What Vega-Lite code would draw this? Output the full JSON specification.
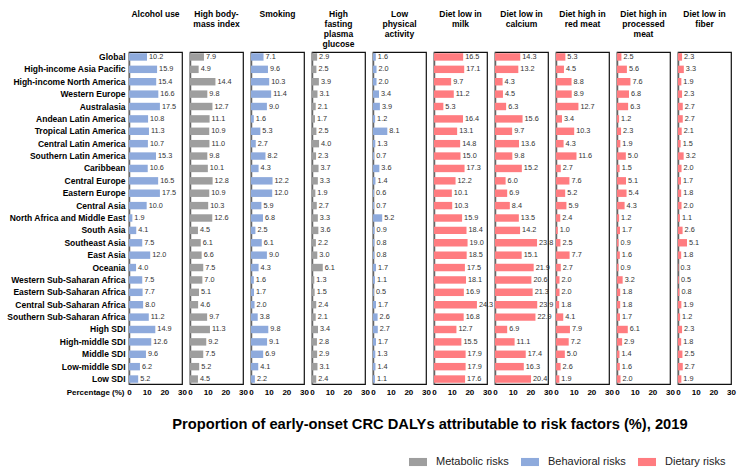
{
"$schema": "https://vega.github.io/schema/vega-lite/v6.json",
"padding": {"left": 5, "top": 8, "right": 5, "bottom": 5},
"data": {"values": [
{"region":"Global","factor":"Alcohol use","value":10.2},
{"region":"High-income Asia Pacific","factor":"Alcohol use","value":15.9},
{"region":"High-income North America","factor":"Alcohol use","value":15.4},
{"region":"Western Europe","factor":"Alcohol use","value":16.6},
{"region":"Australasia","factor":"Alcohol use","value":17.5},
{"region":"Andean Latin America","factor":"Alcohol use","value":10.8},
{"region":"Tropical Latin America","factor":"Alcohol use","value":11.3},
{"region":"Central Latin America","factor":"Alcohol use","value":10.7},
{"region":"Southern Latin America","factor":"Alcohol use","value":15.3},
{"region":"Caribbean","factor":"Alcohol use","value":10.6},
{"region":"Central Europe","factor":"Alcohol use","value":16.5},
{"region":"Eastern Europe","factor":"Alcohol use","value":17.5},
{"region":"Central Asia","factor":"Alcohol use","value":10.0},
{"region":"North Africa and Middle East","factor":"Alcohol use","value":1.9},
{"region":"South Asia","factor":"Alcohol use","value":4.1},
{"region":"Southeast Asia","factor":"Alcohol use","value":7.5},
{"region":"East Asia","factor":"Alcohol use","value":12.0},
{"region":"Oceania","factor":"Alcohol use","value":4.0},
{"region":"Western Sub-Saharan Africa","factor":"Alcohol use","value":7.5},
{"region":"Eastern Sub-Saharan Africa","factor":"Alcohol use","value":7.7},
{"region":"Central Sub-Saharan Africa","factor":"Alcohol use","value":8.0},
{"region":"Southern Sub-Saharan Africa","factor":"Alcohol use","value":11.2},
{"region":"High SDI","factor":"Alcohol use","value":14.9},
{"region":"High-middle SDI","factor":"Alcohol use","value":12.6},
{"region":"Middle SDI","factor":"Alcohol use","value":9.6},
{"region":"Low-middle SDI","factor":"Alcohol use","value":6.2},
{"region":"Low SDI","factor":"Alcohol use","value":5.2},
{"region":"Global","factor":"High body-mass index","value":7.9},
{"region":"High-income Asia Pacific","factor":"High body-mass index","value":4.9},
{"region":"High-income North America","factor":"High body-mass index","value":14.4},
{"region":"Western Europe","factor":"High body-mass index","value":9.8},
{"region":"Australasia","factor":"High body-mass index","value":12.7},
{"region":"Andean Latin America","factor":"High body-mass index","value":11.1},
{"region":"Tropical Latin America","factor":"High body-mass index","value":10.9},
{"region":"Central Latin America","factor":"High body-mass index","value":11.0},
{"region":"Southern Latin America","factor":"High body-mass index","value":9.8},
{"region":"Caribbean","factor":"High body-mass index","value":10.1},
{"region":"Central Europe","factor":"High body-mass index","value":12.8},
{"region":"Eastern Europe","factor":"High body-mass index","value":10.9},
{"region":"Central Asia","factor":"High body-mass index","value":10.3},
{"region":"North Africa and Middle East","factor":"High body-mass index","value":12.6},
{"region":"South Asia","factor":"High body-mass index","value":4.5},
{"region":"Southeast Asia","factor":"High body-mass index","value":6.1},
{"region":"East Asia","factor":"High body-mass index","value":6.6},
{"region":"Oceania","factor":"High body-mass index","value":7.5},
{"region":"Western Sub-Saharan Africa","factor":"High body-mass index","value":7.0},
{"region":"Eastern Sub-Saharan Africa","factor":"High body-mass index","value":5.1},
{"region":"Central Sub-Saharan Africa","factor":"High body-mass index","value":4.6},
{"region":"Southern Sub-Saharan Africa","factor":"High body-mass index","value":9.7},
{"region":"High SDI","factor":"High body-mass index","value":11.3},
{"region":"High-middle SDI","factor":"High body-mass index","value":9.2},
{"region":"Middle SDI","factor":"High body-mass index","value":7.5},
{"region":"Low-middle SDI","factor":"High body-mass index","value":5.2},
{"region":"Low SDI","factor":"High body-mass index","value":4.5},
{"region":"Global","factor":"Smoking","value":7.1},
{"region":"High-income Asia Pacific","factor":"Smoking","value":9.6},
{"region":"High-income North America","factor":"Smoking","value":10.3},
{"region":"Western Europe","factor":"Smoking","value":11.4},
{"region":"Australasia","factor":"Smoking","value":9.0},
{"region":"Andean Latin America","factor":"Smoking","value":1.6},
{"region":"Tropical Latin America","factor":"Smoking","value":5.3},
{"region":"Central Latin America","factor":"Smoking","value":2.7},
{"region":"Southern Latin America","factor":"Smoking","value":8.2},
{"region":"Caribbean","factor":"Smoking","value":4.3},
{"region":"Central Europe","factor":"Smoking","value":12.2},
{"region":"Eastern Europe","factor":"Smoking","value":12.0},
{"region":"Central Asia","factor":"Smoking","value":5.9},
{"region":"North Africa and Middle East","factor":"Smoking","value":6.8},
{"region":"South Asia","factor":"Smoking","value":2.5},
{"region":"Southeast Asia","factor":"Smoking","value":6.1},
{"region":"East Asia","factor":"Smoking","value":9.0},
{"region":"Oceania","factor":"Smoking","value":4.3},
{"region":"Western Sub-Saharan Africa","factor":"Smoking","value":1.6},
{"region":"Eastern Sub-Saharan Africa","factor":"Smoking","value":1.7},
{"region":"Central Sub-Saharan Africa","factor":"Smoking","value":2.0},
{"region":"Southern Sub-Saharan Africa","factor":"Smoking","value":3.8},
{"region":"High SDI","factor":"Smoking","value":9.8},
{"region":"High-middle SDI","factor":"Smoking","value":9.1},
{"region":"Middle SDI","factor":"Smoking","value":6.9},
{"region":"Low-middle SDI","factor":"Smoking","value":4.1},
{"region":"Low SDI","factor":"Smoking","value":2.2},
{"region":"Global","factor":"High fasting plasma glucose","value":2.9},
{"region":"High-income Asia Pacific","factor":"High fasting plasma glucose","value":2.5},
{"region":"High-income North America","factor":"High fasting plasma glucose","value":3.9},
{"region":"Western Europe","factor":"High fasting plasma glucose","value":3.1},
{"region":"Australasia","factor":"High fasting plasma glucose","value":2.1},
{"region":"Andean Latin America","factor":"High fasting plasma glucose","value":1.7},
{"region":"Tropical Latin America","factor":"High fasting plasma glucose","value":2.5},
{"region":"Central Latin America","factor":"High fasting plasma glucose","value":4.0},
{"region":"Southern Latin America","factor":"High fasting plasma glucose","value":2.3},
{"region":"Caribbean","factor":"High fasting plasma glucose","value":3.7},
{"region":"Central Europe","factor":"High fasting plasma glucose","value":3.3},
{"region":"Eastern Europe","factor":"High fasting plasma glucose","value":1.9},
{"region":"Central Asia","factor":"High fasting plasma glucose","value":2.7},
{"region":"North Africa and Middle East","factor":"High fasting plasma glucose","value":3.3},
{"region":"South Asia","factor":"High fasting plasma glucose","value":3.6},
{"region":"Southeast Asia","factor":"High fasting plasma glucose","value":2.2},
{"region":"East Asia","factor":"High fasting plasma glucose","value":3.0},
{"region":"Oceania","factor":"High fasting plasma glucose","value":6.1},
{"region":"Western Sub-Saharan Africa","factor":"High fasting plasma glucose","value":1.3},
{"region":"Eastern Sub-Saharan Africa","factor":"High fasting plasma glucose","value":1.5},
{"region":"Central Sub-Saharan Africa","factor":"High fasting plasma glucose","value":2.4},
{"region":"Southern Sub-Saharan Africa","factor":"High fasting plasma glucose","value":2.1},
{"region":"High SDI","factor":"High fasting plasma glucose","value":3.4},
{"region":"High-middle SDI","factor":"High fasting plasma glucose","value":2.8},
{"region":"Middle SDI","factor":"High fasting plasma glucose","value":2.9},
{"region":"Low-middle SDI","factor":"High fasting plasma glucose","value":3.1},
{"region":"Low SDI","factor":"High fasting plasma glucose","value":2.4},
{"region":"Global","factor":"Low physical activity","value":1.6},
{"region":"High-income Asia Pacific","factor":"Low physical activity","value":2.0},
{"region":"High-income North America","factor":"Low physical activity","value":2.0},
{"region":"Western Europe","factor":"Low physical activity","value":3.4},
{"region":"Australasia","factor":"Low physical activity","value":3.9},
{"region":"Andean Latin America","factor":"Low physical activity","value":1.2},
{"region":"Tropical Latin America","factor":"Low physical activity","value":8.1},
{"region":"Central Latin America","factor":"Low physical activity","value":1.3},
{"region":"Southern Latin America","factor":"Low physical activity","value":0.7},
{"region":"Caribbean","factor":"Low physical activity","value":3.6},
{"region":"Central Europe","factor":"Low physical activity","value":1.4},
{"region":"Eastern Europe","factor":"Low physical activity","value":0.6},
{"region":"Central Asia","factor":"Low physical activity","value":0.7},
{"region":"North Africa and Middle East","factor":"Low physical activity","value":5.2},
{"region":"South Asia","factor":"Low physical activity","value":0.9},
{"region":"Southeast Asia","factor":"Low physical activity","value":0.8},
{"region":"East Asia","factor":"Low physical activity","value":0.8},
{"region":"Oceania","factor":"Low physical activity","value":1.7},
{"region":"Western Sub-Saharan Africa","factor":"Low physical activity","value":1.1},
{"region":"Eastern Sub-Saharan Africa","factor":"Low physical activity","value":0.5},
{"region":"Central Sub-Saharan Africa","factor":"Low physical activity","value":1.7},
{"region":"Southern Sub-Saharan Africa","factor":"Low physical activity","value":2.6},
{"region":"High SDI","factor":"Low physical activity","value":2.7},
{"region":"High-middle SDI","factor":"Low physical activity","value":1.7},
{"region":"Middle SDI","factor":"Low physical activity","value":1.3},
{"region":"Low-middle SDI","factor":"Low physical activity","value":1.4},
{"region":"Low SDI","factor":"Low physical activity","value":1.1},
{"region":"Global","factor":"Diet low in milk","value":16.5},
{"region":"High-income Asia Pacific","factor":"Diet low in milk","value":17.1},
{"region":"High-income North America","factor":"Diet low in milk","value":9.7},
{"region":"Western Europe","factor":"Diet low in milk","value":11.2},
{"region":"Australasia","factor":"Diet low in milk","value":5.3},
{"region":"Andean Latin America","factor":"Diet low in milk","value":16.4},
{"region":"Tropical Latin America","factor":"Diet low in milk","value":13.1},
{"region":"Central Latin America","factor":"Diet low in milk","value":14.8},
{"region":"Southern Latin America","factor":"Diet low in milk","value":15.0},
{"region":"Caribbean","factor":"Diet low in milk","value":17.3},
{"region":"Central Europe","factor":"Diet low in milk","value":12.2},
{"region":"Eastern Europe","factor":"Diet low in milk","value":10.1},
{"region":"Central Asia","factor":"Diet low in milk","value":10.3},
{"region":"North Africa and Middle East","factor":"Diet low in milk","value":15.9},
{"region":"South Asia","factor":"Diet low in milk","value":18.4},
{"region":"Southeast Asia","factor":"Diet low in milk","value":19.0},
{"region":"East Asia","factor":"Diet low in milk","value":18.5},
{"region":"Oceania","factor":"Diet low in milk","value":17.5},
{"region":"Western Sub-Saharan Africa","factor":"Diet low in milk","value":18.1},
{"region":"Eastern Sub-Saharan Africa","factor":"Diet low in milk","value":16.9},
{"region":"Central Sub-Saharan Africa","factor":"Diet low in milk","value":24.3},
{"region":"Southern Sub-Saharan Africa","factor":"Diet low in milk","value":16.8},
{"region":"High SDI","factor":"Diet low in milk","value":12.7},
{"region":"High-middle SDI","factor":"Diet low in milk","value":15.5},
{"region":"Middle SDI","factor":"Diet low in milk","value":17.9},
{"region":"Low-middle SDI","factor":"Diet low in milk","value":17.9},
{"region":"Low SDI","factor":"Diet low in milk","value":17.6},
{"region":"Global","factor":"Diet low in calcium","value":14.3},
{"region":"High-income Asia Pacific","factor":"Diet low in calcium","value":13.2},
{"region":"High-income North America","factor":"Diet low in calcium","value":4.3},
{"region":"Western Europe","factor":"Diet low in calcium","value":4.5},
{"region":"Australasia","factor":"Diet low in calcium","value":6.3},
{"region":"Andean Latin America","factor":"Diet low in calcium","value":15.6},
{"region":"Tropical Latin America","factor":"Diet low in calcium","value":9.7},
{"region":"Central Latin America","factor":"Diet low in calcium","value":13.6},
{"region":"Southern Latin America","factor":"Diet low in calcium","value":9.8},
{"region":"Caribbean","factor":"Diet low in calcium","value":15.2},
{"region":"Central Europe","factor":"Diet low in calcium","value":6.0},
{"region":"Eastern Europe","factor":"Diet low in calcium","value":6.9},
{"region":"Central Asia","factor":"Diet low in calcium","value":8.4},
{"region":"North Africa and Middle East","factor":"Diet low in calcium","value":13.5},
{"region":"South Asia","factor":"Diet low in calcium","value":14.2},
{"region":"Southeast Asia","factor":"Diet low in calcium","value":23.8},
{"region":"East Asia","factor":"Diet low in calcium","value":15.1},
{"region":"Oceania","factor":"Diet low in calcium","value":21.9},
{"region":"Western Sub-Saharan Africa","factor":"Diet low in calcium","value":20.6},
{"region":"Eastern Sub-Saharan Africa","factor":"Diet low in calcium","value":21.3},
{"region":"Central Sub-Saharan Africa","factor":"Diet low in calcium","value":23.9},
{"region":"Southern Sub-Saharan Africa","factor":"Diet low in calcium","value":22.9},
{"region":"High SDI","factor":"Diet low in calcium","value":6.9},
{"region":"High-middle SDI","factor":"Diet low in calcium","value":11.1},
{"region":"Middle SDI","factor":"Diet low in calcium","value":17.4},
{"region":"Low-middle SDI","factor":"Diet low in calcium","value":16.3},
{"region":"Low SDI","factor":"Diet low in calcium","value":20.4},
{"region":"Global","factor":"Diet high in red meat","value":5.3},
{"region":"High-income Asia Pacific","factor":"Diet high in red meat","value":4.5},
{"region":"High-income North America","factor":"Diet high in red meat","value":8.8},
{"region":"Western Europe","factor":"Diet high in red meat","value":8.9},
{"region":"Australasia","factor":"Diet high in red meat","value":12.7},
{"region":"Andean Latin America","factor":"Diet high in red meat","value":3.4},
{"region":"Tropical Latin America","factor":"Diet high in red meat","value":10.3},
{"region":"Central Latin America","factor":"Diet high in red meat","value":4.3},
{"region":"Southern Latin America","factor":"Diet high in red meat","value":11.6},
{"region":"Caribbean","factor":"Diet high in red meat","value":2.7},
{"region":"Central Europe","factor":"Diet high in red meat","value":7.6},
{"region":"Eastern Europe","factor":"Diet high in red meat","value":5.2},
{"region":"Central Asia","factor":"Diet high in red meat","value":5.9},
{"region":"North Africa and Middle East","factor":"Diet high in red meat","value":2.4},
{"region":"South Asia","factor":"Diet high in red meat","value":1.0},
{"region":"Southeast Asia","factor":"Diet high in red meat","value":2.5},
{"region":"East Asia","factor":"Diet high in red meat","value":7.7},
{"region":"Oceania","factor":"Diet high in red meat","value":2.7},
{"region":"Western Sub-Saharan Africa","factor":"Diet high in red meat","value":2.0},
{"region":"Eastern Sub-Saharan Africa","factor":"Diet high in red meat","value":2.0},
{"region":"Central Sub-Saharan Africa","factor":"Diet high in red meat","value":1.8},
{"region":"Southern Sub-Saharan Africa","factor":"Diet high in red meat","value":4.1},
{"region":"High SDI","factor":"Diet high in red meat","value":7.9},
{"region":"High-middle SDI","factor":"Diet high in red meat","value":7.2},
{"region":"Middle SDI","factor":"Diet high in red meat","value":5.0},
{"region":"Low-middle SDI","factor":"Diet high in red meat","value":2.6},
{"region":"Low SDI","factor":"Diet high in red meat","value":1.9},
{"region":"Global","factor":"Diet high in processed meat","value":2.5},
{"region":"High-income Asia Pacific","factor":"Diet high in processed meat","value":5.6},
{"region":"High-income North America","factor":"Diet high in processed meat","value":7.6},
{"region":"Western Europe","factor":"Diet high in processed meat","value":6.8},
{"region":"Australasia","factor":"Diet high in processed meat","value":6.3},
{"region":"Andean Latin America","factor":"Diet high in processed meat","value":1.2},
{"region":"Tropical Latin America","factor":"Diet high in processed meat","value":2.3},
{"region":"Central Latin America","factor":"Diet high in processed meat","value":1.9},
{"region":"Southern Latin America","factor":"Diet high in processed meat","value":5.0},
{"region":"Caribbean","factor":"Diet high in processed meat","value":1.5},
{"region":"Central Europe","factor":"Diet high in processed meat","value":5.1},
{"region":"Eastern Europe","factor":"Diet high in processed meat","value":5.4},
{"region":"Central Asia","factor":"Diet high in processed meat","value":4.3},
{"region":"North Africa and Middle East","factor":"Diet high in processed meat","value":1.2},
{"region":"South Asia","factor":"Diet high in processed meat","value":1.7},
{"region":"Southeast Asia","factor":"Diet high in processed meat","value":0.9},
{"region":"East Asia","factor":"Diet high in processed meat","value":1.6},
{"region":"Oceania","factor":"Diet high in processed meat","value":0.9},
{"region":"Western Sub-Saharan Africa","factor":"Diet high in processed meat","value":3.2},
{"region":"Eastern Sub-Saharan Africa","factor":"Diet high in processed meat","value":1.8},
{"region":"Central Sub-Saharan Africa","factor":"Diet high in processed meat","value":1.8},
{"region":"Southern Sub-Saharan Africa","factor":"Diet high in processed meat","value":1.7},
{"region":"High SDI","factor":"Diet high in processed meat","value":6.1},
{"region":"High-middle SDI","factor":"Diet high in processed meat","value":2.9},
{"region":"Middle SDI","factor":"Diet high in processed meat","value":1.4},
{"region":"Low-middle SDI","factor":"Diet high in processed meat","value":1.6},
{"region":"Low SDI","factor":"Diet high in processed meat","value":2.0},
{"region":"Global","factor":"Diet low in fiber","value":2.3},
{"region":"High-income Asia Pacific","factor":"Diet low in fiber","value":3.3},
{"region":"High-income North America","factor":"Diet low in fiber","value":1.9},
{"region":"Western Europe","factor":"Diet low in fiber","value":2.3},
{"region":"Australasia","factor":"Diet low in fiber","value":2.7},
{"region":"Andean Latin America","factor":"Diet low in fiber","value":2.7},
{"region":"Tropical Latin America","factor":"Diet low in fiber","value":2.1},
{"region":"Central Latin America","factor":"Diet low in fiber","value":1.5},
{"region":"Southern Latin America","factor":"Diet low in fiber","value":3.2},
{"region":"Caribbean","factor":"Diet low in fiber","value":2.0},
{"region":"Central Europe","factor":"Diet low in fiber","value":1.7},
{"region":"Eastern Europe","factor":"Diet low in fiber","value":1.8},
{"region":"Central Asia","factor":"Diet low in fiber","value":2.0},
{"region":"North Africa and Middle East","factor":"Diet low in fiber","value":1.1},
{"region":"South Asia","factor":"Diet low in fiber","value":2.6},
{"region":"Southeast Asia","factor":"Diet low in fiber","value":5.1},
{"region":"East Asia","factor":"Diet low in fiber","value":1.8},
{"region":"Oceania","factor":"Diet low in fiber","value":0.3},
{"region":"Western Sub-Saharan Africa","factor":"Diet low in fiber","value":0.5},
{"region":"Eastern Sub-Saharan Africa","factor":"Diet low in fiber","value":0.8},
{"region":"Central Sub-Saharan Africa","factor":"Diet low in fiber","value":1.9},
{"region":"Southern Sub-Saharan Africa","factor":"Diet low in fiber","value":1.2},
{"region":"High SDI","factor":"Diet low in fiber","value":2.3},
{"region":"High-middle SDI","factor":"Diet low in fiber","value":1.8},
{"region":"Middle SDI","factor":"Diet low in fiber","value":2.5},
{"region":"Low-middle SDI","factor":"Diet low in fiber","value":2.7},
{"region":"Low SDI","factor":"Diet low in fiber","value":1.9}
]},
"title": {"text": "Proportion of early-onset CRC DALYs attributable to risk factors (%), 2019", "orient": "bottom", "anchor": "middle", "fontSize": 14.7, "fontWeight": "bold", "font": "Liberation Sans", "color": "#000", "dx": 59, "offset": -50, "lineHeight": 15},
"bounds": "flush",
"spacing": 8,
"resolve": {"scale": {"color": "shared"}, "legend": {"color": "shared"}},
"hconcat": [
{"width": 53, "height": 332, "title": {"text": ["Alcohol use", " ", " ", " "]},
 "transform": [{"filter": {"field": "factor", "equal": "Alcohol use"}}],
 "encoding": {"y": {"field": "region", "type": "nominal", "sort": null, "axis": {"title": null, "ticks": false, "labelFontSize": 8.5, "labelFontWeight": "bold", "labelPadding": 4, "labelColor": "#000", "domainColor": "#666", "domainWidth": 1.5}},
  "x": {"field": "value", "type": "quantitative", "scale": {"domain": [0, 30]}, "axis": {"values": [0, 10, 20, 30], "title": "Percentage (%)", "titleAngle": 0, "titleAlign": "right", "titleBaseline": "middle", "titleX": -5, "titleY": 8.5, "titleFontSize": 8, "titleFontWeight": "bold", "titleColor": "#000"}}},
 "layer": [
  {"mark": {"type": "bar"}, "encoding": {"color": {"datum": "Behavioral risks", "scale": {"domain": ["Metabolic risks", "Behavioral risks", "Dietary risks"], "range": ["#9e9e9e", "#8eaadc", "#ff7c80"]}, "legend": {"title": null}}}},
  {"mark": {"type": "text", "align": "left", "baseline": "middle", "dx": 2, "fontSize": 7.3, "color": "#333"}, "encoding": {"text": {"field": "value", "type": "quantitative", "format": ".1f"}}}
 ]},
{"width": 53, "height": 332, "title": {"text": ["High body-", "mass index", " ", " "]},
 "transform": [{"filter": {"field": "factor", "equal": "High body-mass index"}}],
 "encoding": {"y": {"field": "region", "type": "nominal", "sort": null, "axis": {"title": null, "ticks": false, "labels": false, "domainColor": "#666", "domainWidth": 1.5}},
  "x": {"field": "value", "type": "quantitative", "scale": {"domain": [0, 30]}, "axis": {"values": [0, 10, 20, 30], "title": null}}},
 "layer": [
  {"mark": {"type": "bar"}, "encoding": {"color": {"datum": "Metabolic risks", "scale": {"domain": ["Metabolic risks", "Behavioral risks", "Dietary risks"], "range": ["#9e9e9e", "#8eaadc", "#ff7c80"]}, "legend": {"title": null}}}},
  {"mark": {"type": "text", "align": "left", "baseline": "middle", "dx": 2, "fontSize": 7.3, "color": "#333"}, "encoding": {"text": {"field": "value", "type": "quantitative", "format": ".1f"}}}
 ]},
{"width": 53, "height": 332, "title": {"text": ["Smoking", " ", " ", " "]},
 "transform": [{"filter": {"field": "factor", "equal": "Smoking"}}],
 "encoding": {"y": {"field": "region", "type": "nominal", "sort": null, "axis": {"title": null, "ticks": false, "labels": false, "domainColor": "#666", "domainWidth": 1.5}},
  "x": {"field": "value", "type": "quantitative", "scale": {"domain": [0, 30]}, "axis": {"values": [0, 10, 20, 30], "title": null}}},
 "layer": [
  {"mark": {"type": "bar"}, "encoding": {"color": {"datum": "Behavioral risks", "scale": {"domain": ["Metabolic risks", "Behavioral risks", "Dietary risks"], "range": ["#9e9e9e", "#8eaadc", "#ff7c80"]}, "legend": {"title": null}}}},
  {"mark": {"type": "text", "align": "left", "baseline": "middle", "dx": 2, "fontSize": 7.3, "color": "#333"}, "encoding": {"text": {"field": "value", "type": "quantitative", "format": ".1f"}}}
 ]},
{"width": 53, "height": 332, "title": {"text": ["High", "fasting", "plasma", "glucose"]},
 "transform": [{"filter": {"field": "factor", "equal": "High fasting plasma glucose"}}],
 "encoding": {"y": {"field": "region", "type": "nominal", "sort": null, "axis": {"title": null, "ticks": false, "labels": false, "domainColor": "#666", "domainWidth": 1.5}},
  "x": {"field": "value", "type": "quantitative", "scale": {"domain": [0, 30]}, "axis": {"values": [0, 10, 20, 30], "title": null}}},
 "layer": [
  {"mark": {"type": "bar"}, "encoding": {"color": {"datum": "Metabolic risks", "scale": {"domain": ["Metabolic risks", "Behavioral risks", "Dietary risks"], "range": ["#9e9e9e", "#8eaadc", "#ff7c80"]}, "legend": {"title": null}}}},
  {"mark": {"type": "text", "align": "left", "baseline": "middle", "dx": 2, "fontSize": 7.3, "color": "#333"}, "encoding": {"text": {"field": "value", "type": "quantitative", "format": ".1f"}}}
 ]},
{"width": 53, "height": 332, "title": {"text": ["Low", "physical", "activity", " "]},
 "transform": [{"filter": {"field": "factor", "equal": "Low physical activity"}}],
 "encoding": {"y": {"field": "region", "type": "nominal", "sort": null, "axis": {"title": null, "ticks": false, "labels": false, "domainColor": "#666", "domainWidth": 1.5}},
  "x": {"field": "value", "type": "quantitative", "scale": {"domain": [0, 30]}, "axis": {"values": [0, 10, 20, 30], "title": null}}},
 "layer": [
  {"mark": {"type": "bar"}, "encoding": {"color": {"datum": "Behavioral risks", "scale": {"domain": ["Metabolic risks", "Behavioral risks", "Dietary risks"], "range": ["#9e9e9e", "#8eaadc", "#ff7c80"]}, "legend": {"title": null}}}},
  {"mark": {"type": "text", "align": "left", "baseline": "middle", "dx": 2, "fontSize": 7.3, "color": "#333"}, "encoding": {"text": {"field": "value", "type": "quantitative", "format": ".1f"}}}
 ]},
{"width": 53, "height": 332, "title": {"text": ["Diet low in", "milk", " ", " "]},
 "transform": [{"filter": {"field": "factor", "equal": "Diet low in milk"}}],
 "encoding": {"y": {"field": "region", "type": "nominal", "sort": null, "axis": {"title": null, "ticks": false, "labels": false, "domainColor": "#666", "domainWidth": 1.5}},
  "x": {"field": "value", "type": "quantitative", "scale": {"domain": [0, 30]}, "axis": {"values": [0, 10, 20, 30], "title": null}}},
 "layer": [
  {"mark": {"type": "bar"}, "encoding": {"color": {"datum": "Dietary risks", "scale": {"domain": ["Metabolic risks", "Behavioral risks", "Dietary risks"], "range": ["#9e9e9e", "#8eaadc", "#ff7c80"]}, "legend": {"title": null}}}},
  {"mark": {"type": "text", "align": "left", "baseline": "middle", "dx": 2, "fontSize": 7.3, "color": "#333"}, "encoding": {"text": {"field": "value", "type": "quantitative", "format": ".1f"}}}
 ]},
{"width": 53, "height": 332, "title": {"text": ["Diet low in", "calcium", " ", " "]},
 "transform": [{"filter": {"field": "factor", "equal": "Diet low in calcium"}}],
 "encoding": {"y": {"field": "region", "type": "nominal", "sort": null, "axis": {"title": null, "ticks": false, "labels": false, "domainColor": "#666", "domainWidth": 1.5}},
  "x": {"field": "value", "type": "quantitative", "scale": {"domain": [0, 30]}, "axis": {"values": [0, 10, 20, 30], "title": null}}},
 "layer": [
  {"mark": {"type": "bar"}, "encoding": {"color": {"datum": "Dietary risks", "scale": {"domain": ["Metabolic risks", "Behavioral risks", "Dietary risks"], "range": ["#9e9e9e", "#8eaadc", "#ff7c80"]}, "legend": {"title": null}}}},
  {"mark": {"type": "text", "align": "left", "baseline": "middle", "dx": 2, "fontSize": 7.3, "color": "#333"}, "encoding": {"text": {"field": "value", "type": "quantitative", "format": ".1f"}}}
 ]},
{"width": 53, "height": 332, "title": {"text": ["Diet high in", "red meat", " ", " "]},
 "transform": [{"filter": {"field": "factor", "equal": "Diet high in red meat"}}],
 "encoding": {"y": {"field": "region", "type": "nominal", "sort": null, "axis": {"title": null, "ticks": false, "labels": false, "domainColor": "#666", "domainWidth": 1.5}},
  "x": {"field": "value", "type": "quantitative", "scale": {"domain": [0, 30]}, "axis": {"values": [0, 10, 20, 30], "title": null}}},
 "layer": [
  {"mark": {"type": "bar"}, "encoding": {"color": {"datum": "Dietary risks", "scale": {"domain": ["Metabolic risks", "Behavioral risks", "Dietary risks"], "range": ["#9e9e9e", "#8eaadc", "#ff7c80"]}, "legend": {"title": null}}}},
  {"mark": {"type": "text", "align": "left", "baseline": "middle", "dx": 2, "fontSize": 7.3, "color": "#333"}, "encoding": {"text": {"field": "value", "type": "quantitative", "format": ".1f"}}}
 ]},
{"width": 53, "height": 332, "title": {"text": ["Diet high in", "processed", "meat", " "]},
 "transform": [{"filter": {"field": "factor", "equal": "Diet high in processed meat"}}],
 "encoding": {"y": {"field": "region", "type": "nominal", "sort": null, "axis": {"title": null, "ticks": false, "labels": false, "domainColor": "#666", "domainWidth": 1.5}},
  "x": {"field": "value", "type": "quantitative", "scale": {"domain": [0, 30]}, "axis": {"values": [0, 10, 20, 30], "title": null}}},
 "layer": [
  {"mark": {"type": "bar"}, "encoding": {"color": {"datum": "Dietary risks", "scale": {"domain": ["Metabolic risks", "Behavioral risks", "Dietary risks"], "range": ["#9e9e9e", "#8eaadc", "#ff7c80"]}, "legend": {"title": null}}}},
  {"mark": {"type": "text", "align": "left", "baseline": "middle", "dx": 2, "fontSize": 7.3, "color": "#333"}, "encoding": {"text": {"field": "value", "type": "quantitative", "format": ".1f"}}}
 ]},
{"width": 53, "height": 332, "title": {"text": ["Diet low in", "fiber", " ", " "]},
 "transform": [{"filter": {"field": "factor", "equal": "Diet low in fiber"}}],
 "encoding": {"y": {"field": "region", "type": "nominal", "sort": null, "axis": {"title": null, "ticks": false, "labels": false, "domainColor": "#666", "domainWidth": 1.5}},
  "x": {"field": "value", "type": "quantitative", "scale": {"domain": [0, 30]}, "axis": {"values": [0, 10, 20, 30], "title": null}}},
 "layer": [
  {"mark": {"type": "bar"}, "encoding": {"color": {"datum": "Dietary risks", "scale": {"domain": ["Metabolic risks", "Behavioral risks", "Dietary risks"], "range": ["#9e9e9e", "#8eaadc", "#ff7c80"]}, "legend": {"title": null}}}},
  {"mark": {"type": "text", "align": "left", "baseline": "middle", "dx": 2, "fontSize": 7.3, "color": "#333"}, "encoding": {"text": {"field": "value", "type": "quantitative", "format": ".1f"}}}
 ]}
],
"config": {
 "font": "Liberation Sans",
 "view": {"stroke": "#111", "strokeWidth": 1.2},
 "scale": {"bandPaddingInner": 0.4, "bandPaddingOuter": 0.1},
 "title": {"fontSize": 8.5, "fontWeight": "bold", "color": "#000", "offset": 4, "lineHeight": 10, "anchor": "middle"},
 "axisX": {"domain": false, "ticks": false, "grid": false, "labelFontSize": 8, "labelFontWeight": "bold", "labelPadding": 4, "labelFlush": false, "labelColor": "#000"},
 "axisY": {"grid": false},
 "legend": {"orient": "none", "legendX": 280, "legendY": 401, "direction": "horizontal", "symbolType": "M-1,-0.45H1V0.45H-1Z", "symbolSize": 324, "symbolStrokeWidth": 0, "labelFontSize": 11, "labelColor": "#222", "labelOffset": 9, "columnPadding": 12}
}
}
